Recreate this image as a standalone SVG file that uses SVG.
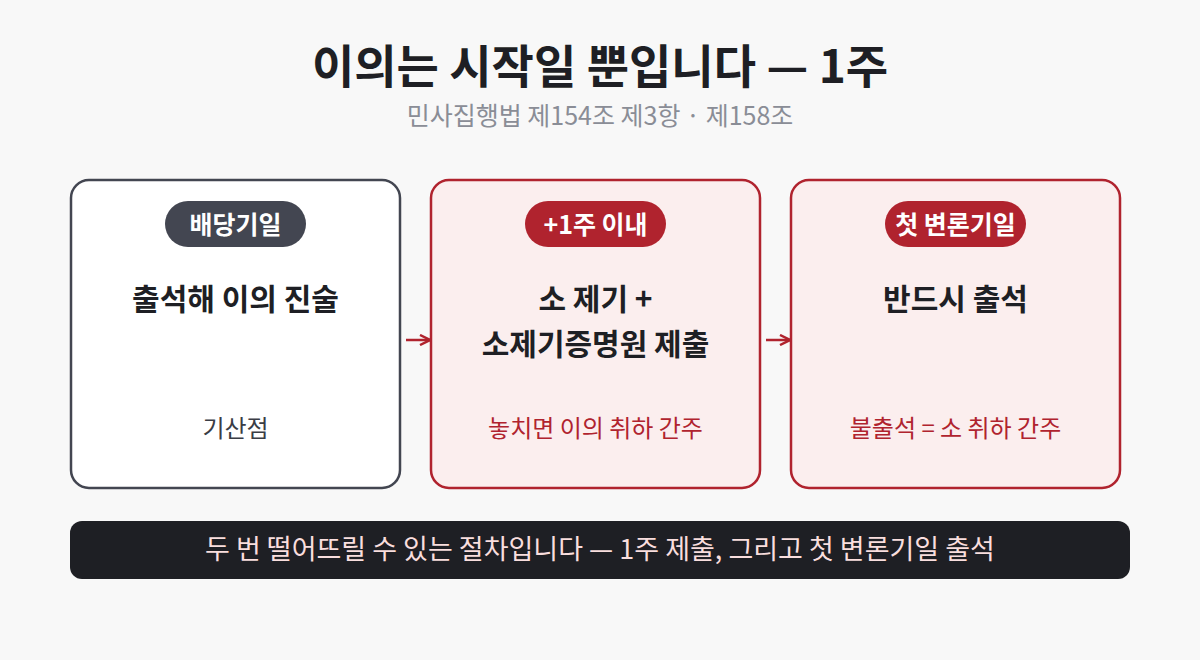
<svg xmlns="http://www.w3.org/2000/svg" width="1200" height="660" viewBox="0 0 1200 660">
<style>
text{font-family:"Noto Sans CJK KR","Noto Sans",sans-serif;text-anchor:middle}
.title{font-size:46px;font-weight:700;fill:#1e1f24}
.sub{font-size:25px;fill:#8a8d96}
.box{stroke-width:2.5}
.badge{font-size:25px;font-weight:700;fill:#ffffff}
.main{font-size:30px;font-weight:700;fill:#1e1f24}
.note{font-size:24px}
.conn{stroke:#b0232e;stroke-width:2.5;fill:none}
</style>
<defs>
<marker id="ah" viewBox="0 0 10 10" refX="9" refY="5" markerWidth="5" markerHeight="5" orient="auto" markerUnits="strokeWidth">
<path d="M1,1 L9,5 L1,9" fill="none" stroke="#b0232e" stroke-width="2"/>
</marker>
</defs>
<rect width="1200" height="660" fill="#f8f8f8"/>
<text class="title" x="600" y="83">이의는 시작일 뿐입니다 — 1주</text>
<text class="sub" x="600" y="125">민사집행법 제154조 제3항 · 제158조</text>
<g id="node1">
<rect class="box" x="71" y="180" width="329" height="308" rx="18" fill="#ffffff" stroke="#434651"/>
<rect x="165" y="201" width="141" height="46" rx="23" fill="#434651"/>
<text class="badge" x="235.5" y="234">배당기일</text>
<text class="main" x="235.5" y="310">출석해 이의 진술</text>
<text class="note" x="235.5" y="437" fill="#3a3d45">기산점</text>
</g>
<g id="node2">
<rect class="box" x="431" y="180" width="329" height="308" rx="18" fill="#fbeeee" stroke="#b0232e"/>
<rect x="525" y="201" width="141" height="46" rx="23" fill="#b0232e"/>
<text class="badge" x="595.5" y="234">+1주 이내</text>
<text class="main" x="595.5" y="310">소 제기 +</text>
<text class="main" x="595.5" y="355">소제기증명원 제출</text>
<text class="note" x="595.5" y="437" fill="#b0232e">놓치면 이의 취하 간주</text>
</g>
<g id="node3">
<rect class="box" x="791" y="180" width="329" height="308" rx="18" fill="#fbeeee" stroke="#b0232e"/>
<rect x="885" y="201" width="141" height="46" rx="23" fill="#b0232e"/>
<text class="badge" x="955.5" y="234">첫 변론기일</text>
<text class="main" x="955.5" y="310">반드시 출석</text>
<text class="note" x="955.5" y="437" fill="#b0232e">불출석 = 소 취하 간주</text>
</g>
<g id="connectors">
<line class="conn" x1="406" y1="340" x2="430" y2="340" marker-end="url(#ah)"/>
<line class="conn" x1="766" y1="340" x2="790" y2="340" marker-end="url(#ah)"/>
</g>
<g id="footer">
<rect x="70" y="521" width="1060" height="58" rx="12" fill="#1e1f24"/>
<text x="600" y="559" font-size="27" fill="#f9dede">두 번 떨어뜨릴 수 있는 절차입니다 — 1주 제출, 그리고 첫 변론기일 출석</text>
</g>
</svg>
